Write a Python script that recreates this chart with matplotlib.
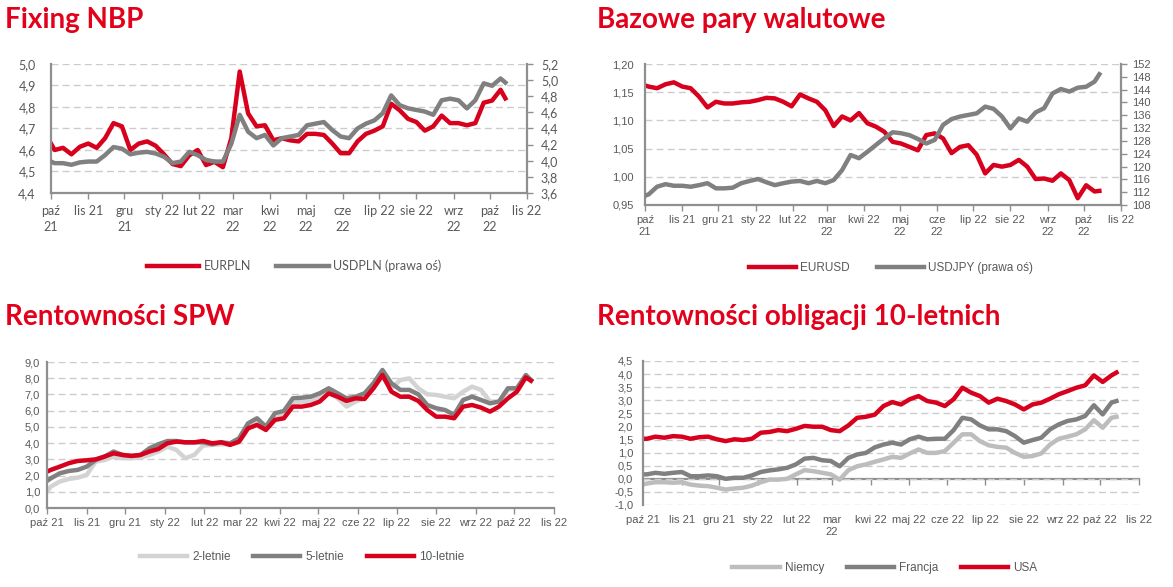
import numpy as np
import pandas as pd
import matplotlib
matplotlib.use('Agg')
import matplotlib.pyplot as plt
import matplotlib.dates as mdates

# weekly readings (Mondays) plus first and last observation
dates = pd.DatetimeIndex(['2021-10-01']).append(pd.date_range('2021-10-04', '2022-10-10', freq='7D')).append(pd.DatetimeIndex(['2022-10-14']))
months = pd.date_range('2021-10-01', '2022-11-01', freq='MS')

lab_nbp = ['paź\n21', 'lis 21', 'gru\n21', 'sty 22', 'lut 22', 'mar\n22', 'kwi\n22', 'maj\n22', 'cze\n22', 'lip 22', 'sie 22', 'wrz\n22', 'paź\n22', 'lis 22']
lab_fx = ['paź\n21', 'lis 21', 'gru 21', 'sty 22', 'lut 22', 'mar\n22', 'kwi 22', 'maj\n22', 'cze\n22', 'lip 22', 'sie 22', 'wrz\n22', 'paź\n22', 'lis 22']
lab_spw = ['paź 21', 'lis 21', 'gru 21', 'sty 22', 'lut 22', 'mar 22', 'kwi 22', 'maj 22', 'cze 22', 'lip 22', 'sie 22', 'wrz 22', 'paź 22', 'lis 22']
lab_10y = ['paź 21', 'lis 21', 'gru 21', 'sty 22', 'lut 22', 'mar\n22', 'kwi 22', 'maj 22', 'cze 22', 'lip 22', 'sie 22', 'wrz 22', 'paź 22', 'lis 22']

eurpln = [4.63, 4.60, 4.61, 4.58, 4.615, 4.63, 4.61, 4.655, 4.725, 4.71, 4.60, 4.63, 4.64, 4.62, 4.58, 4.535,
          4.525, 4.575, 4.60, 4.53, 4.545, 4.52, 4.655, 4.965, 4.77, 4.71, 4.715, 4.645, 4.655, 4.645, 4.64, 4.675,
          4.675, 4.67, 4.63, 4.585, 4.585, 4.64, 4.675, 4.69, 4.71, 4.815, 4.785, 4.745, 4.73, 4.69, 4.71, 4.76,
          4.725, 4.725, 4.715, 4.725, 4.82, 4.83, 4.88, 4.84]
usdpln = [3.99, 3.97, 3.97, 3.95, 3.98, 3.99, 3.99, 4.07, 4.17, 4.15, 4.08, 4.10, 4.11, 4.09, 4.05, 3.97,
          3.99, 4.11, 4.07, 4.01, 3.99, 3.99, 4.21, 4.57, 4.36, 4.28, 4.32, 4.19, 4.28, 4.30, 4.32, 4.44,
          4.46, 4.48, 4.38, 4.30, 4.28, 4.40, 4.46, 4.50, 4.59, 4.81, 4.69, 4.65, 4.63, 4.61, 4.57, 4.75,
          4.77, 4.75, 4.65, 4.75, 4.96, 4.93, 5.02, 4.97]

eurusd = [1.162, 1.160, 1.157, 1.164, 1.1675, 1.160, 1.157, 1.142, 1.123, 1.133, 1.130, 1.130, 1.132, 1.133,
          1.136, 1.140, 1.139, 1.133, 1.125, 1.146, 1.139, 1.133, 1.118, 1.090, 1.107, 1.100, 1.113, 1.095,
          1.089, 1.080, 1.062, 1.059, 1.053, 1.047, 1.074, 1.077, 1.068, 1.042, 1.053, 1.056, 1.039, 1.006,
          1.021, 1.018, 1.021, 1.030, 1.018, 0.996, 0.997, 0.993, 1.006, 0.994, 0.962, 0.985, 0.974, 0.975]
usdjpy = [110.9, 111.3, 113.7, 114.5, 114.0, 114.0, 113.7, 114.2, 114.8, 113.2, 113.2, 113.4, 114.8, 115.5,
          116.1, 115.1, 114.2, 114.8, 115.3, 115.5, 114.8, 115.5, 114.8, 115.8, 118.9, 123.6, 122.6, 124.6,
          126.7, 128.8, 130.7, 130.4, 129.8, 128.6, 127.2, 128.3, 133.0, 134.8, 135.6, 136.1, 136.6, 138.7,
          138.0, 135.6, 131.9, 135.0, 134.0, 136.9, 138.2, 142.8, 144.2, 143.4, 144.6, 144.9, 146.5, 148.8]

spw2 = [1.01, 1.32, 1.63, 1.79, 1.87, 2.04, 2.86, 2.96, 3.17, 3.07, 3.07, 3.11, 3.27, 3.48, 3.78, 3.58,
        3.07, 3.27, 3.85, 3.89, 3.93, 3.93, 4.05, 4.91, 5.22, 4.87, 5.53, 5.69, 6.45, 6.56, 6.56, 6.80,
        7.17, 6.76, 6.25, 6.56, 6.76, 7.38, 8.10, 7.38, 7.89, 7.99, 7.38, 7.01, 6.97, 6.86, 6.76, 7.17,
        7.48, 7.28, 6.56, 6.56, 7.28, 7.38, 8.10, 7.84]
spw5 = [1.67, 1.83, 2.14, 2.28, 2.35, 2.55, 2.96, 3.17, 3.48, 3.27, 3.21, 3.27, 3.68, 3.93, 4.13, 4.13,
        4.05, 4.05, 4.05, 3.93, 4.05, 3.99, 4.30, 5.22, 5.53, 5.02, 5.84, 5.98, 6.76, 6.80, 6.86, 7.07,
        7.38, 7.07, 6.76, 6.86, 7.07, 7.69, 8.51, 7.69, 7.28, 7.28, 7.01, 6.35, 6.15, 6.04, 5.74, 6.66,
        6.86, 6.66, 6.45, 6.56, 7.38, 7.38, 8.20, 7.89]
spw10 = [2.24, 2.35, 2.55, 2.76, 2.90, 2.94, 3.00, 3.17, 3.37, 3.27, 3.21, 3.27, 3.48, 3.64, 3.99, 4.09,
         4.05, 4.05, 4.13, 3.99, 4.05, 3.89, 4.09, 4.91, 5.12, 4.81, 5.43, 5.53, 6.25, 6.25, 6.35, 6.56,
         7.07, 6.86, 6.60, 6.76, 6.72, 7.38, 8.20, 7.17, 6.86, 6.86, 6.60, 6.04, 5.63, 5.63, 5.53, 6.25,
         6.35, 6.19, 5.94, 6.25, 6.76, 7.17, 8.05, 7.85]

niemcy = [-0.22, -0.18, -0.13, -0.13, -0.15, -0.13, -0.22, -0.26, -0.28, -0.34, -0.41, -0.37, -0.34, -0.26,
          -0.13, -0.03, -0.03, 0.00, 0.17, 0.33, 0.29, 0.23, 0.17, -0.03, 0.33, 0.48, 0.55, 0.65,
          0.74, 0.84, 0.80, 0.97, 1.12, 0.99, 0.99, 1.06, 1.38, 1.70, 1.70, 1.44, 1.28, 1.22,
          1.19, 0.99, 0.84, 0.87, 0.97, 1.31, 1.53, 1.61, 1.70, 1.89, 2.24, 1.95, 2.33, 2.37]
francja = [0.17, 0.17, 0.23, 0.19, 0.23, 0.26, 0.10, 0.10, 0.13, 0.10, 0.00, 0.04, 0.04, 0.13,
           0.26, 0.32, 0.36, 0.42, 0.55, 0.77, 0.80, 0.71, 0.68, 0.48, 0.80, 0.93, 0.99, 1.20,
           1.31, 1.38, 1.31, 1.51, 1.61, 1.51, 1.53, 1.53, 1.86, 2.33, 2.27, 2.04, 1.89, 1.89,
           1.82, 1.63, 1.38, 1.48, 1.57, 1.89, 2.08, 2.21, 2.27, 2.40, 2.81, 2.46, 2.91, 2.97]
usa = [1.53, 1.53, 1.61, 1.57, 1.63, 1.61, 1.53, 1.59, 1.61, 1.51, 1.44, 1.51, 1.48, 1.53,
       1.76, 1.79, 1.86, 1.82, 1.91, 2.02, 1.99, 1.99, 1.86, 1.82, 2.04, 2.33, 2.37, 2.45,
       2.78, 2.93, 2.84, 3.04, 3.16, 2.97, 2.91, 2.78, 3.04, 3.48, 3.29, 3.16, 2.91, 3.06,
       2.97, 2.84, 2.65, 2.84, 2.91, 3.06, 3.23, 3.35, 3.48, 3.57, 3.95, 3.70, 3.95, 4.06]

red = '#d7001d'
gray = '#808080'
lgray = '#d3d3d3'
mgray = '#bdbdbd'
tred = '#e2001a'
gridc = '#cccccc'
spinec = '#8f8f8f'
txtc = '#595959'
LW = 3.2

W, H = 1173, 587
x = mdates.date2num(dates)
mt = mdates.date2num(months)

fig = plt.figure(figsize=(W / 100, H / 100), dpi=100)


def box(l, t, r, b):
    return [l / W, 1 - b / H, (r - l) / W, (b - t) / H]


def fmt(vals, nd):
    return [f'{v:.{nd}f}'.replace('.', ',') for v in vals]


def style(ax, font, size, xlabels, xpad, ypad, yt, ylabels, ls=1.2):
    ax.set_xlim(mt[0], mt[-1])
    ax.set_xticks(mt)
    ax.set_xticklabels(xlabels, fontfamily=font, fontsize=size, color=txtc, linespacing=ls)
    ax.tick_params(axis='x', length=4, width=1, color=spinec, pad=xpad, direction='out')
    ax.set_yticks(yt, labels=ylabels, fontfamily=font, fontsize=size, color=txtc)
    ax.set_ylim(yt[0], yt[-1])
    ax.tick_params(axis='y', length=0, pad=ypad)
    for s in ['top', 'right']:
        ax.spines[s].set_visible(False)
    for s in ['left', 'bottom']:
        ax.spines[s].set_color(spinec)
        ax.spines[s].set_linewidth(1.6)
    ax.grid(axis='y', linestyle=(0, (5, 3)), color=gridc, lw=1)
    ax.set_axisbelow(True)


def right_axis(ax, font, size, yt, ylabels, pad):
    ax2 = ax.twinx()
    ax2.set_yticks(yt, labels=ylabels, fontfamily=font, fontsize=size, color=txtc)
    ax2.set_ylim(yt[0], yt[-1])
    ax2.tick_params(axis='y', length=4, width=1, color=spinec, pad=pad)
    for s in ['top', 'left', 'bottom']:
        ax2.spines[s].set_visible(False)
    ax2.spines['right'].set_color(spinec)
    ax2.spines['right'].set_linewidth(1.6)
    return ax2


# ---- Fixing NBP
ax1 = fig.add_axes(box(51, 64, 527, 193))
yt = np.round(np.arange(4.4, 5.01, 0.1), 1)
style(ax1, 'Lato', 9, lab_nbp, 5, 11, yt, fmt(yt, 1), ls=1.35)
l1, = ax1.plot(x, eurpln, color=red, lw=LW)
yt2 = np.round(np.arange(3.6, 5.21, 0.2), 1)
ax1b = right_axis(ax1, 'Lato', 9, yt2, fmt(yt2, 1), 6)
l2, = ax1b.plot(x, usdpln, color=gray, lw=LW)
fig.legend([l1, l2], ['EURPLN', 'USDPLN (prawa oś)'], loc='center', bbox_to_anchor=(294 / W, 1 - 266 / H),
           ncol=2, frameon=False, handlelength=4.2, handletextpad=0.35, columnspacing=2.0,
           prop={'family': 'Lato', 'size': 9}, labelcolor=txtc)

# ---- Bazowe pary walutowe
ax2 = fig.add_axes(box(645, 64, 1121, 205))
yt = np.round(np.arange(0.95, 1.201, 0.05), 2)
style(ax2, 'Liberation Sans', 8, lab_fx, 3, 8, yt, fmt(yt, 2), ls=1.3)
l3, = ax2.plot(x, eurusd, color=red, lw=LW)
yt2 = np.arange(108, 153, 4)
ax2b = right_axis(ax2, 'Liberation Sans', 8, yt2, [str(v) for v in yt2], 4)
l4, = ax2b.plot(x, usdjpy, color=gray, lw=LW)
fig.legend([l3, l4], ['EURUSD', 'USDJPY (prawa oś)'], loc='center', bbox_to_anchor=(891 / W, 1 - 268 / H),
           ncol=2, frameon=False, handlelength=4.0, handletextpad=0.35, columnspacing=2.3,
           prop={'family': 'Liberation Sans', 'size': 8.5}, labelcolor=txtc)

# ---- Rentowności SPW
ax3 = fig.add_axes(box(47, 362, 554, 508))
yt = np.arange(0, 9.01, 1.0)
style(ax3, 'Liberation Sans', 8, lab_spw, 3, 5, yt, fmt(yt, 1))
l5, = ax3.plot(x, spw2, color=lgray, lw=LW)
l6, = ax3.plot(x, spw5, color=gray, lw=LW)
l7, = ax3.plot(x, spw10, color=red, lw=LW)
fig.legend([l5, l6, l7], ['2-letnie', '5-letnie', '10-letnie'], loc='center', bbox_to_anchor=(302 / W, 1 - 557 / H),
           ncol=3, frameon=False, handlelength=4.0, handletextpad=0.45, columnspacing=1.9,
           prop={'family': 'Liberation Sans', 'size': 8.5}, labelcolor=txtc)

# ---- Rentowności obligacji 10-letnich
ax4 = fig.add_axes(box(643, 361, 1139, 505))
yt = np.round(np.arange(-1.0, 4.51, 0.5), 1)
style(ax4, 'Liberation Sans', 8, lab_10y, 7, 7, yt, fmt(yt, 1), ls=1.3)
ax4.spines['bottom'].set_visible(False)
ax4.tick_params(axis='x', length=0)
zero = (0 - yt[0]) / (yt[-1] - yt[0])
sec = ax4.secondary_xaxis(zero)
sec.set_xticks(mt)
sec.tick_params(axis='x', length=4, width=1, color=spinec, labelbottom=False, labeltop=False)
sec.spines['bottom'].set_color(spinec)
sec.spines['bottom'].set_linewidth(1.6)
l8, = ax4.plot(x, niemcy, color=mgray, lw=LW)
l9, = ax4.plot(x, francja, color=gray, lw=LW)
l10, = ax4.plot(x, usa, color=red, lw=LW)
fig.legend([l8, l9, l10], ['Niemcy', 'Francja', 'USA'], loc='center', bbox_to_anchor=(885 / W, 1 - 568 / H),
           ncol=3, frameon=False, handlelength=4.0, handletextpad=0.45, columnspacing=1.9,
           prop={'family': 'Liberation Sans', 'size': 8.5}, labelcolor=txtc)

# ---- titles
tkw = dict(fontfamily='Lato', fontweight='bold', fontsize=20, color=tred, va='center', ha='left')
fig.text(5 / W, 1 - 20 / H, 'Fixing NBP', **tkw)
fig.text(597 / W, 1 - 20 / H, 'Bazowe pary walutowe', **tkw)
fig.text(5 / W, 1 - 317 / H, 'Rentowności SPW', **tkw)
fig.text(597 / W, 1 - 317 / H, 'Rentowności obligacji 10-letnich', **tkw)

fig.savefig('out.png', dpi=100)
